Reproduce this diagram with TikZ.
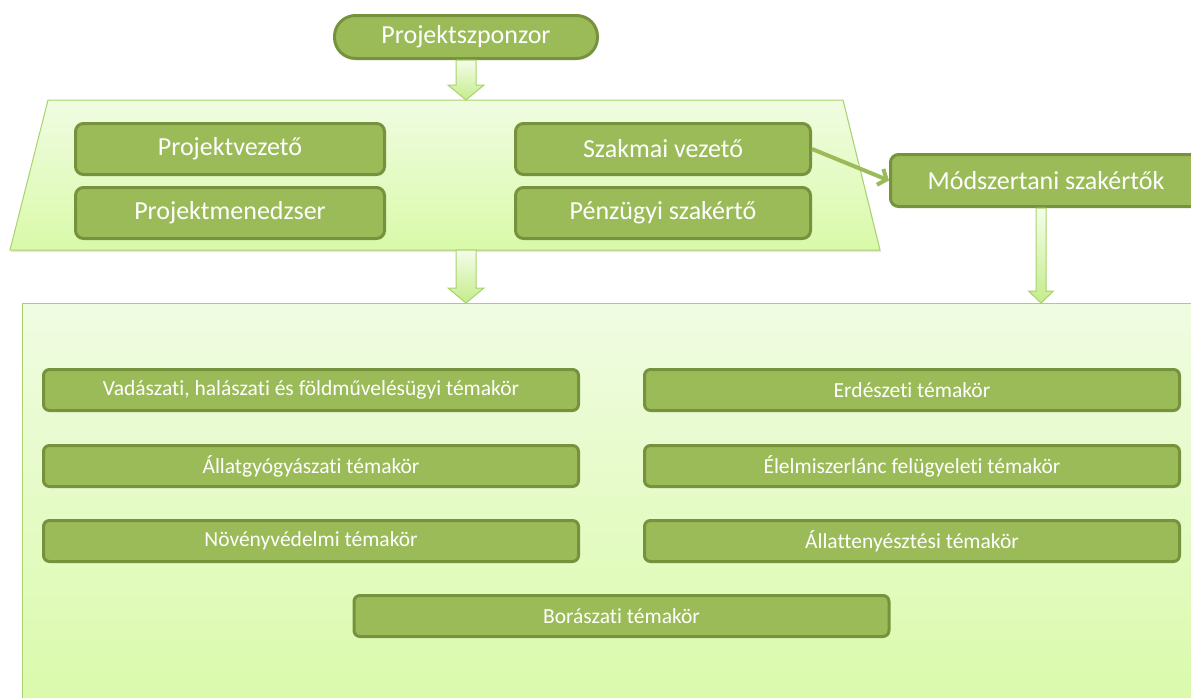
\documentclass[tikz,border=0pt]{standalone}
\usepackage{fontspec}
\setmainfont{Carlito}[Ligatures=NoCommon]
\usetikzlibrary{arrows.meta,positioning,shadows,calc}
\definecolor{boxgreen}{HTML}{9BBB59}
\definecolor{boxline}{HTML}{76923C}
\definecolor{paneltop}{HTML}{F0FCE2}
\definecolor{panelbottom}{HTML}{D9FAA8}
\definecolor{panelline}{HTML}{A8D26E}
\definecolor{arrowtop}{HTML}{F4FDEA}
\definecolor{arrowbottom}{HTML}{C4EC8A}
\tikzset{
  sponsorbox/.style={rectangle,rounded corners=21pt,draw=boxline,line width=3pt,fill=boxgreen,text=white,minimum width=263pt,minimum height=43pt,font=\fontsize{26}{30}\selectfont},
  rolebox/.style={rectangle,rounded corners=8pt,draw=boxline,line width=3pt,fill=boxgreen,text=white,minimum width=309pt,minimum height=51pt,font=\fontsize{26}{30}\selectfont},
  topicbox/.style={rectangle,rounded corners=6pt,draw=boxline,line width=3pt,fill=boxgreen,text=white,minimum width=535pt,minimum height=41pt,font=\fontsize{21.5}{25}\selectfont},
  panel/.style={draw=panelline,line width=1pt,top color=paneltop,bottom color=panelbottom,drop shadow={opacity=0.2,shadow xshift=1pt,shadow yshift=-2pt}},
  fatarrow/.style={draw=panelline,line width=1pt,top color=arrowtop,bottom color=arrowbottom},
  link/.style={-{Straight Barb[length=7pt,width=17pt]},line width=4pt,draw=boxgreen}
}
% block arrow: from, to, half shaft, half head, head length
\newcommand{\fatarrow}[5]{%
  \path[fatarrow] let \p1=(#1), \p2=(#2) in
    (\x1-#3pt,\y1) -- (\x1+#3pt,\y1) -- (\x1+#3pt,\y2+#5pt) -- (\x1+#4pt,\y2+#5pt)
    -- (\x1,\y2) -- (\x1-#4pt,\y2+#5pt) -- (\x1-#3pt,\y2+#5pt) -- cycle;}

\begin{document}
\begin{tikzpicture}[x=1pt,y=-1pt]
  \useasboundingbox (0,0) rectangle (1191,697);
  \clip (0,0) rectangle (1191,697);

  % panels
  \path[panel] (48,100) -- (843,100) -- (880,250) -- (10,250) -- cycle;
  \coordinate (leadtop) at (466,100);
  \coordinate (leadbottom) at (466,250);
  \node[panel,rectangle,anchor=north west,minimum width=1200pt,minimum height=420pt] (themes) at (22,303) {};

  % people
  \node[sponsorbox] (sponsor) at (466,37) {Projektszponzor};
  \node[rolebox] (pv) at (230,149) {Projektvezető};
  \node[rolebox] (pm) at (230,213) {Projektmenedzser};
  \node[rolebox,minimum width=295pt] (szv) at (663,149) {Szakmai vezető};
  \node[rolebox,minimum width=295pt] (psz) at (663,213) {Pénzügyi szakértő};
  \node[rolebox,minimum width=311pt,minimum height=52pt] (msz) at (1046,180.5) {Módszertani szakértők};
  \coordinate (mszfoot) at (1041,208);

  % topics
  \node[topicbox] (vad) at (311,390) {Vadászati, halászati és földművelésügyi témakör};
  \node[topicbox] (allgy) at (311,466) {Állatgyógyászati témakör};
  \node[topicbox] (nov) at (311,541) {Növényvédelmi témakör};
  \node[topicbox] (erd) at (912,390) {Erdészeti témakör};
  \node[topicbox] (elm) at (912,466) {Élelmiszerlánc felügyeleti témakör};
  \node[topicbox] (allt) at (912,541) {Állattenyésztési témakör};
  \node[topicbox] (bor) at (621.5,616) {Borászati témakör};

  % arrows
  \fatarrow{sponsor.south}{leadtop}{10}{18}{15}
  \fatarrow{leadbottom}{themes.north -| leadbottom}{10}{18}{15}
  \fatarrow{mszfoot}{themes.north -| mszfoot}{5}{12.5}{12}
  \draw[link] (szv.east) -- (msz.west);
\end{tikzpicture}
\end{document}
